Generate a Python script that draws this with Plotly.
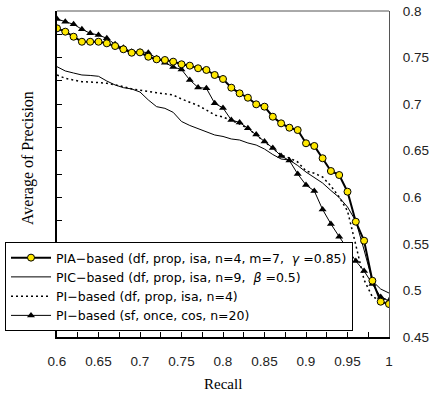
import plotly.graph_objects as go

recall = [round(0.60 + 0.01 * i, 2) for i in range(41)]

pia = [0.7814, 0.7778, 0.7724, 0.7670, 0.7670, 0.7670, 0.7653, 0.7624, 0.7589, 0.7552,
       0.7556, 0.7509, 0.7481, 0.7474, 0.7456, 0.7428, 0.7413, 0.7385, 0.7367, 0.7313,
       0.7270, 0.7177, 0.7116, 0.7069, 0.6998, 0.6973, 0.6865, 0.6794, 0.6747, 0.6722,
       0.6580, 0.6551, 0.6419, 0.6282, 0.6239, 0.6060, 0.5738, 0.5534, 0.5104, 0.4879,
       0.4854]

pic = [0.7402, 0.7356, 0.7334, 0.7313, 0.7308, 0.7299, 0.7248, 0.7206, 0.7177, 0.7163,
       0.7130, 0.7045, 0.6973, 0.6955, 0.6912, 0.6814, 0.6771, 0.6736, 0.6704, 0.6669,
       0.6653, 0.6626, 0.6615, 0.6583, 0.6561, 0.6518, 0.6459, 0.6411, 0.6400, 0.6341,
       0.6271, 0.6212, 0.6153, 0.6073, 0.5998, 0.5896, 0.5745, 0.5434, 0.5101, 0.5015,
       0.4972]

pi_df = [0.7313, 0.7277, 0.7259, 0.7241, 0.7238, 0.7235, 0.7224, 0.7206, 0.7189, 0.7163,
         0.7146, 0.7136, 0.7123, 0.7111, 0.7098, 0.7055, 0.7018, 0.6985, 0.6937, 0.6883,
         0.6862, 0.6824, 0.6787, 0.6739, 0.6669, 0.6604, 0.6529, 0.6454, 0.6422, 0.6379,
         0.6282, 0.6258, 0.6218, 0.6121, 0.6003, 0.5853, 0.5488, 0.5112, 0.4930, 0.4897,
         0.4919]

pi_sf = [0.7914, 0.7885, 0.7857, 0.7804, 0.7761, 0.7742, 0.7707, 0.7642, 0.7606, 0.7563,
         0.7563, 0.7552, 0.7492, 0.7445, 0.7399, 0.7372, 0.7259, 0.7179, 0.7170, 0.7009,
         0.6959, 0.6830, 0.6803, 0.6741, 0.6674, 0.6599, 0.6529, 0.6444, 0.6395, 0.6250,
         0.6132, 0.6068, 0.5869, 0.5714, 0.5577, 0.5445, 0.5316, 0.5209, 0.5070, 0.4930,
         0.4887]

names = [
    "PIA\u2212based (df, prop, isa, n=4, m=7,  <i>\u03b3</i> =0.85)",
    "PIC\u2212based (df, prop, isa, n=9,  <i>\u03b2</i> =0.5)",
    "PI\u2212based (df, prop, isa, n=4)",
    "PI\u2212based (sf, once, cos, n=20)",
]

x_ticks = [0.6, 0.65, 0.7, 0.75, 0.8, 0.85, 0.9, 0.95, 1.0]
y_ticks = [0.45, 0.5, 0.55, 0.6, 0.65, 0.7, 0.75, 0.8]

fig = go.Figure()

fig.add_trace(go.Scatter(
    x=recall, y=pi_sf, name=names[3], mode="lines+markers", legendrank=4,
    line=dict(color="black", width=1),
    marker=dict(symbol="triangle-up", size=7, color="black"),
))
fig.add_trace(go.Scatter(
    x=recall, y=pic, name=names[1], mode="lines", legendrank=2,
    line=dict(color="black", width=1),
))
fig.add_trace(go.Scatter(
    x=recall, y=pi_df, name=names[2], mode="lines", legendrank=3,
    line=dict(color="black", width=1.5, dash="2px,3px"),
))
fig.add_trace(go.Scatter(
    x=recall, y=pia, name=names[0], mode="lines+markers", legendrank=1,
    line=dict(color="black", width=2),
    marker=dict(symbol="circle", size=7, color="#FFE800", line=dict(color="black", width=1)),
))
# invisible trace to drive the right-side y axis labels
fig.add_trace(go.Scatter(x=[recall[0]], y=[pia[0]], yaxis="y2", showlegend=False,
                         mode="markers", marker=dict(opacity=0), hoverinfo="skip"))

tick_font = dict(family="Liberation Sans, Arial, sans-serif", size=13.5, color="#222")

fig.update_layout(
    width=432, height=394,
    margin=dict(l=57, r=43, t=11, b=57, autoexpand=False),
    paper_bgcolor="white", plot_bgcolor="white",
    showlegend=True,
    xaxis=dict(
        range=[0.6, 1.0], showgrid=False, zeroline=False,
        showline=True, linecolor="black", linewidth=2,
        ticks="inside", ticklen=5, tickwidth=1, tickcolor="black",
        tickvals=x_ticks, tickfont=tick_font, ticklabelstandoff=11,
        minor=dict(dtick=0.025, tick0=0.6, ticks="inside", ticklen=5, tickcolor="black", showgrid=False),
    ),
    yaxis=dict(
        range=[0.45, 0.8], showgrid=False, zeroline=False,
        showline=True, linecolor="black", linewidth=2,
        ticks="inside", ticklen=5, tickwidth=1, tickcolor="black",
        tickvals=y_ticks, showticklabels=False,
        minor=dict(dtick=0.025, tick0=0.45, ticks="inside", ticklen=5, tickcolor="black", showgrid=False),
    ),
    yaxis2=dict(
        range=[0.45, 0.8], overlaying="y", side="right", showgrid=False, zeroline=False,
        showline=True, linecolor="#555", linewidth=1, ticks="",
        tickvals=y_ticks, tickfont=tick_font, ticklabelstandoff=10,
    ),
    legend=dict(
        xref="container", yref="container",
        x=5 / 432, y=1 - 242 / 394, xanchor="left", yanchor="top",
        bgcolor="white", bordercolor="black", borderwidth=1,
        font=dict(family="DejaVu Sans, sans-serif", size=12.5, color="black"),
        itemwidth=40, tracegroupgap=0,
    ),
    shapes=[
        dict(type="line", xref="paper", yref="paper", x0=0, x1=1, y0=1, y1=1,
             line=dict(color="#555", width=1), layer="below"),
    ],
    annotations=[
        dict(text="Recall", xref="paper", yref="paper", x=0.5, y=(337 - 384) / 326,
             xanchor="center", yanchor="middle", showarrow=False,
             font=dict(family="Liberation Serif, Times New Roman, serif", size=15, color="black")),
        dict(text="Average of Precision", xref="paper", yref="paper",
             x=(28 - 57) / 332, y=(337 - 158) / 326, textangle=-90,
             xanchor="center", yanchor="middle", showarrow=False,
             font=dict(family="Liberation Serif, Times New Roman, serif", size=16, color="black")),
    ],
)

fig.write_html("out.html")
